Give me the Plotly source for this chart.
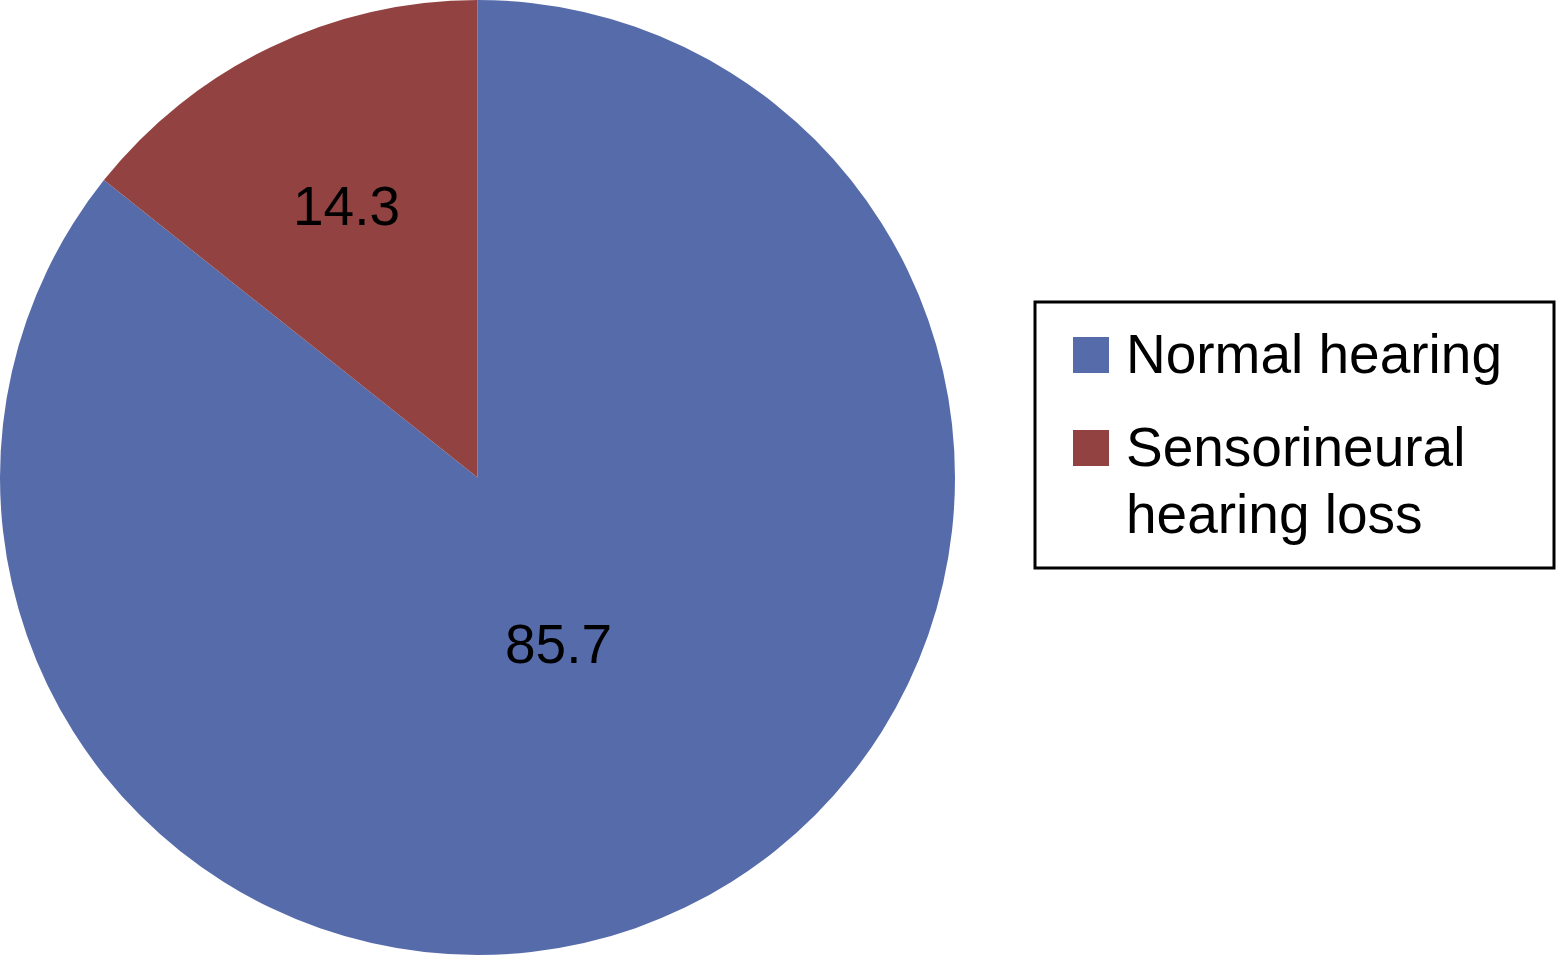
import math
import plotly.graph_objects as go

labels = ["Normal hearing", "Sensorineural<br>hearing loss"]
values = [85.7, 14.3]
colors = ["#566BAA", "#924341"]
label_radius = [0.39, 0.63]  # relative radial position of the value labels

W, H = 1556, 955
PIE_W = 955
FONT = "Liberation Sans, Arial, sans-serif"
FS = 55
LINE_GAP = 67

fig = go.Figure()
fig.add_trace(go.Pie(
    labels=labels, values=values, sort=False, direction="clockwise", rotation=0,
    marker=dict(colors=colors, line=dict(width=0)),
    textinfo="none", hoverinfo="label+value", showlegend=False,
    domain=dict(x=[0, PIE_W / W], y=[0, 1]),
))

# value labels at slice mid-angles
cx, cy, r = PIE_W / 2, H / 2, min(PIE_W, H) / 2
total = sum(values)
cum = 0.0
annotations = []
for v, f in zip(values, label_radius):
    mid = (cum + v / 2) / total * 2 * math.pi
    cum += v
    px = cx + r * f * math.sin(mid)
    py = cy - r * f * math.cos(mid)
    annotations.append(dict(
        x=px / W, y=1 - (py - 1) / H, xref="paper", yref="paper",
        text=f"{v:.1f}", showarrow=False, xanchor="center", yanchor="middle",
        font=dict(family=FONT, size=FS, color="black"),
    ))

# custom legend
shapes = [dict(type="rect", xref="paper", yref="paper",
               x0=1035 / W, x1=1554 / W, y0=1 - 568 / H, y1=1 - 302 / H,
               line=dict(color="black", width=3), fillcolor="white", layer="below")]
item_top = [337, 430]
for lab, col, top in zip(labels, colors, item_top):
    shapes.append(dict(type="rect", xref="paper", yref="paper",
                       x0=1073 / W, x1=1109 / W, y0=1 - (top + 36) / H, y1=1 - top / H,
                       line=dict(width=0), fillcolor=col))
    for i, line in enumerate(lab.split("<br>")):
        annotations.append(dict(
            x=1124 / W, y=1 - (top - 16 + i * LINE_GAP) / H, xref="paper", yref="paper",
            text=line, showarrow=False, xanchor="left", yanchor="top", align="left",
            font=dict(family=FONT, size=FS, color="black"),
        ))

fig.update_layout(
    width=W, height=H, margin=dict(l=0, r=0, t=0, b=0),
    paper_bgcolor="white", plot_bgcolor="white",
    shapes=shapes, annotations=annotations,
)
fig.write_html("out.html", config={"displayModeBar": False},
               post_script="document.body.style.margin='0';document.body.style.overflow='hidden';")
